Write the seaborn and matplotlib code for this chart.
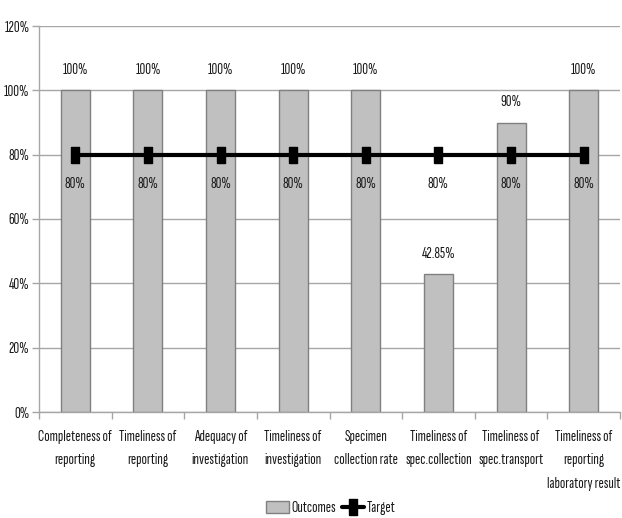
import matplotlib
matplotlib.use("Agg")
import matplotlib.pyplot as plt
import seaborn as sns
import pandas as pd
from matplotlib.patches import Patch
from matplotlib.lines import Line2D

categories = [
    "Completeness of\nreporting",
    "Timeliness of\nreporting",
    "Adequacy of\ninvestigation",
    "Timeliness of\ninvestigation",
    "Specimen\ncollection rate",
    "Timeliness of\nspec.collection",
    "Timeliness of\nspec.transport",
    "Timeliness of\nreporting\nlaboratory result",
]
outcomes = [100, 100, 100, 100, 100, 42.85, 90, 100]
target = [80, 80, 80, 80, 80, 80, 80, 80]
outcome_labels = ["100%", "100%", "100%", "100%", "100%", "42.85%", "90%", "100%"]
target_labels = ["80%"] * 8
y_ticks = [0, 20, 40, 60, 80, 100, 120]

sns.set_theme(style="white")
plt.rcParams["font.family"] = ["Sofia Sans Extra Condensed", "DejaVu Sans"]
FS = 11.5
TXT = "#1a1a1a"
GRID = "#a6a6a6"

fig = plt.figure(figsize=(6.22, 5.18), dpi=100)
ax = fig.add_axes([39 / 622, 106 / 518, (620 - 39) / 622, (412 - 26) / 518])

df = pd.DataFrame({"cat": categories, "Outcomes": outcomes, "Target": target})
sns.barplot(data=df, x="cat", y="Outcomes", color="#c0c0c0", width=0.4,
            edgecolor="#808080", linewidth=1.0, saturation=1, ax=ax, zorder=2)

# target line with tall rectangular markers
rect = [(-0.25, -0.5), (0.25, -0.5), (0.25, 0.5), (-0.25, 0.5), (-0.25, -0.5)]
ax.plot(range(len(categories)), df["Target"], color="black", lw=3.0,
        marker=rect, markersize=11.5, zorder=4)

for i, (v, lab) in enumerate(zip(outcomes, outcome_labels)):
    ax.annotate(lab, (i, v), xytext=(0, 14.5), textcoords="offset points",
                ha="center", va="center", fontsize=FS, color=TXT)
for i, (v, lab) in enumerate(zip(target, target_labels)):
    ax.annotate(lab, (i, v), xytext=(0, -21), textcoords="offset points",
                ha="center", va="center", fontsize=FS, color=TXT)

ax.set_ylim(0, 120)
ax.set_xlim(-0.5, len(categories) - 0.5)
ax.set_yticks(y_ticks)
ax.set_yticklabels([f"{t}%" for t in y_ticks], fontsize=FS, color=TXT)
ax.yaxis.grid(True, color=GRID, lw=1.0, zorder=0)
ax.set_axisbelow(True)

ax.set_xticks([k - 0.5 for k in range(len(categories) + 1)], minor=True)
ax.set_xticks(range(len(categories)))
ax.set_xticklabels(categories, fontsize=FS, color=TXT, linespacing=1.85, va="top")
ax.tick_params(axis="x", which="major", length=0, pad=13)
ax.tick_params(axis="x", which="minor", length=5, color=GRID, width=1, bottom=True)
ax.tick_params(axis="y", length=5, color=GRID, width=1, left=True, pad=2)
ax.set_xlabel("")
ax.set_ylabel("")

for s in ["top", "right"]:
    ax.spines[s].set_visible(False)
for s in ["left", "bottom"]:
    ax.spines[s].set_color(GRID)
    ax.spines[s].set_linewidth(1.0)

handles = [
    Patch(facecolor="#c0c0c0", edgecolor="#808080", label="Outcomes"),
    Line2D([0], [0], color="black", lw=3.0, marker=rect, markersize=11.5, label="Target"),
]
fig.legend(handles=handles, loc="center", bbox_to_anchor=(331 / 622, 1 - 508 / 518),
           ncol=2, frameon=False, fontsize=FS, handlelength=1.4, handleheight=0.8,
           handletextpad=0.15, columnspacing=0.4, labelcolor=TXT)

fig.savefig("out.png", dpi=100)
